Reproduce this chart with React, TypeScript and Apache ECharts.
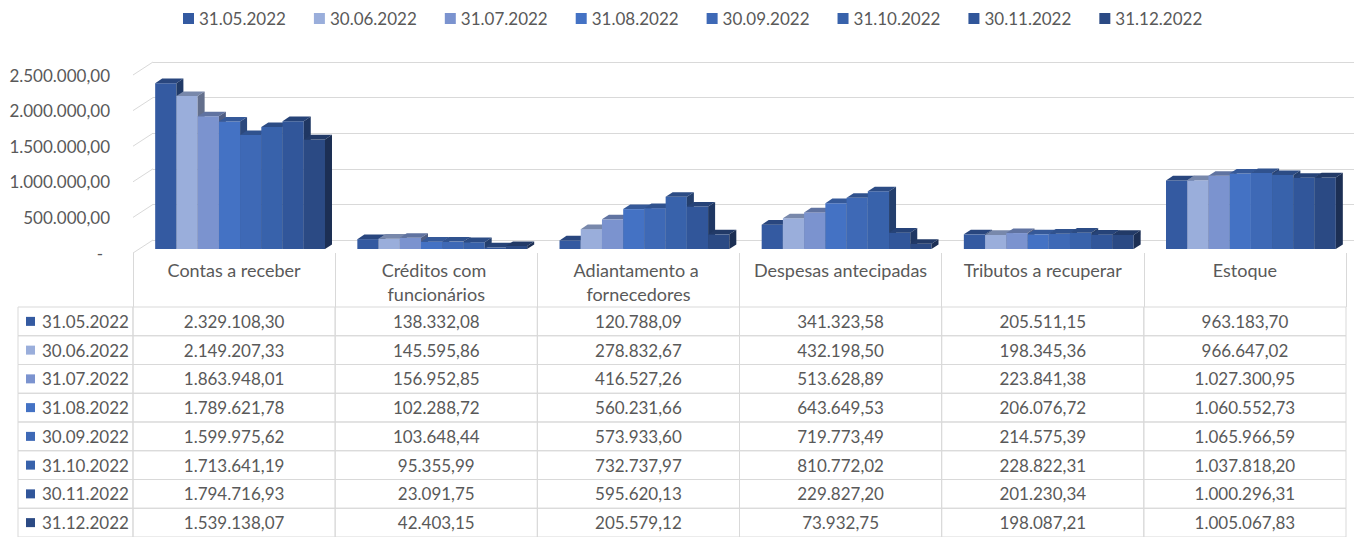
import React, { useEffect, useRef } from "react";
import * as echarts from "echarts";

const categories = [
  "Contas a receber",
  "Créditos com funcionários",
  "Adiantamento a fornecedores",
  "Despesas antecipadas",
  "Tributos a recuperar",
  "Estoque",
];
const dates = [
  "31.05.2022",
  "30.06.2022",
  "31.07.2022",
  "31.08.2022",
  "30.09.2022",
  "31.10.2022",
  "30.11.2022",
  "31.12.2022",
];
const s0505 = [2329108.3, 138332.08, 120788.09, 341323.58, 205511.15, 963183.7];
const s0606 = [2149207.33, 145595.86, 278832.67, 432198.5, 198345.36, 966647.02];
const s0707 = [1863948.01, 156952.85, 416527.26, 513628.89, 223841.38, 1027300.95];
const s0808 = [1789621.78, 102288.72, 560231.66, 643649.53, 206076.72, 1060552.73];
const s0909 = [1599975.62, 103648.44, 573933.6, 719773.49, 214575.39, 1065966.59];
const s1010 = [1713641.19, 95355.99, 732737.97, 810772.02, 228822.31, 1037818.2];
const s1111 = [1794716.93, 23091.75, 595620.13, 229827.2, 201230.34, 1000296.31];
const s1212 = [1539138.07, 42403.15, 205579.12, 73932.75, 198087.21, 1005067.83];
const seriesValues = [s0505, s0606, s0707, s0808, s0909, s1010, s1111, s1212];
const yTicks = [0, 500000, 1000000, 1500000, 2000000, 2500000];

const colors = [
  "#345aa1",
  "#9aaedb",
  "#7b93cf",
  "#4472c4",
  "#3e69b6",
  "#3862ab",
  "#31569a",
  "#2b4a84",
];

const FONT = "Lato";
const TXT = "#595959";
const LINE = "#d9d9d9";
const FS = 17;
const HFS = 18;

function shade(hex: string, f: number) {
  const n = parseInt(hex.slice(1), 16);
  const r = Math.round(((n >> 16) & 255) * f);
  const g = Math.round(((n >> 8) & 255) * f);
  const b = Math.round((n & 255) * f);
  return `rgb(${r},${g},${b})`;
}

function fmt(v: number) {
  const [i, d] = v.toFixed(2).split(".");
  return i.replace(/\B(?=(\d{3})+(?!\d))/g, ".") + "," + d;
}

// depth geometry (3D look)
const D1 = [6, -4];
const D2 = [13, -8.6];
const WALL = [20, -13];

export default function App() {
  const ref = useRef<HTMLDivElement>(null);
  useEffect(() => {
    if (!ref.current) return;
    const chart = echarts.init(ref.current, null, { renderer: "svg" });

    const barSeries = dates.map((d, s) => ({
      name: d,
      type: "custom",
      xAxisIndex: 0,
      yAxisIndex: 0,
      itemStyle: { color: colors[s] },
      data: seriesValues[s].map((v, c) => [c, v]),
      renderItem: (params: any, api: any) => {
        const c = api.value(0);
        const v = api.value(1);
        const base = api.coord([c, 0]);
        const top = api.coord([c, v])[1];
        const band = api.size([1, 0])[0];
        const inner = band * 0.84;
        const bw = inner / 8;
        const x0 = base[0] - inner / 2 + s * bw;
        const y0 = base[1];
        const fx = x0 + D1[0];
        const bx = x0 + D2[0];
        return {
          type: "group",
          children: [
            {
              type: "rect",
              shape: { x: fx, y: top + D1[1], width: bw, height: y0 - top },
              style: { fill: colors[s] },
            },
            {
              type: "polygon",
              shape: {
                points: [
                  [fx, top + D1[1]],
                  [fx + bw, top + D1[1]],
                  [bx + bw, top + D2[1]],
                  [bx, top + D2[1]],
                ],
              },
              style: { fill: shade(colors[s], 0.78) },
            },
            {
              type: "polygon",
              shape: {
                points: [
                  [fx + bw, top + D1[1]],
                  [bx + bw, top + D2[1]],
                  [bx + bw, y0 + D2[1]],
                  [fx + bw, y0 + D1[1]],
                ],
              },
              style: { fill: shade(colors[s], 0.64) },
            },
          ],
        };
      },
    }));

    const connectorSeries = {
      type: "custom",
      xAxisIndex: 0,
      yAxisIndex: 0,
      silent: true,
      z: 1,
      data: yTicks.map((v) => [0, v]),
      renderItem: (params: any, api: any) => {
        const y = api.coord([0, api.value(1)])[1];
        const x = params.coordSys.x;
        return {
          type: "line",
          shape: { x1: x, y1: y, x2: x + WALL[0], y2: y + WALL[1] },
          style: { stroke: LINE, lineWidth: 1 },
        };
      },
    };

    const cells: number[][] = [];
    for (let r = 0; r < dates.length; r++)
      for (let c = 0; c < categories.length; c++) cells.push([c, r, seriesValues[r][c]]);

    const tableSeries = {
      type: "custom",
      xAxisIndex: 1,
      yAxisIndex: 1,
      silent: true,
      data: cells,
      renderItem: (params: any, api: any) => {
        const c = api.value(0);
        const r = api.value(1);
        const v = api.value(2);
        const pt = api.coord([c, r]);
        const sz = api.size([1, 1]);
        return {
          type: "group",
          children: [
            {
              type: "rect",
              shape: { x: pt[0] - sz[0] / 2, y: pt[1] - sz[1] / 2, width: sz[0], height: sz[1] },
              style: { fill: "none", stroke: LINE, lineWidth: 1 },
            },
            {
              type: "text",
              x: pt[0],
              y: pt[1],
              style: {
                text: fmt(v),
                fill: TXT,
                fontSize: FS,
                fontFamily: FONT,
                align: "center",
                verticalAlign: "middle",
              },
            },
          ],
        };
      },
    };

    const firstColSeries = {
      type: "custom",
      xAxisIndex: 1,
      yAxisIndex: 1,
      silent: true,
      data: dates.map((d, r) => [0, r]),
      renderItem: (params: any, api: any) => {
        const r = api.value(1);
        const pt = api.coord([0, r]);
        const h = api.size([1, 1])[1];
        const x0 = params.coordSys.x - 115;
        return {
          type: "group",
          children: [
            {
              type: "rect",
              shape: { x: x0, y: pt[1] - h / 2, width: 115, height: h },
              style: { fill: "none", stroke: LINE, lineWidth: 1 },
            },
            {
              type: "rect",
              shape: { x: x0 + 8, y: pt[1] - 4.5, width: 9, height: 9 },
              style: { fill: colors[r] },
            },
            {
              type: "text",
              x: x0 + 24,
              y: pt[1],
              style: {
                text: dates[r],
                fill: TXT,
                fontSize: FS,
                fontFamily: FONT,
                align: "left",
                verticalAlign: "middle",
              },
            },
          ],
        };
      },
    };

    chart.setOption({
      animation: false,
      backgroundColor: "#ffffff",
      textStyle: { fontFamily: FONT },
      legend: {
        data: dates,
        top: 5,
        left: 178,
        icon: "rect",
        itemWidth: 11,
        itemHeight: 11,
        itemGap: 28,
        textStyle: { color: TXT, fontSize: FS, fontFamily: FONT },
      },
      grid: [
        { left: 133, right: 8, top: 75, bottom: 537 - 253 },
        { left: 133, right: 8, top: 307, bottom: -3 },
        { left: 153, right: 0, top: 62, bottom: 537 - 240 },
      ],
      xAxis: [
        {
          type: "category",
          gridIndex: 0,
          data: categories,
          axisLine: { show: false },
          axisTick: { show: true, length: 54, lineStyle: { color: LINE } },
          axisLabel: {
            color: TXT,
            fontSize: HFS,
            fontFamily: FONT,
            width: 190,
            overflow: "break",
            lineHeight: 24,
            margin: 5,
            interval: 0,
          },
          splitLine: { show: false },
        },
        {
          type: "category",
          gridIndex: 1,
          data: categories,
          show: false,
        },
        { type: "value", gridIndex: 2, min: 0, max: 1, show: false },
      ],
      yAxis: [
        {
          type: "value",
          gridIndex: 0,
          min: 0,
          max: 2500000,
          interval: 500000,
          axisLine: { show: false },
          axisTick: { show: false },
          splitLine: { show: false },
          axisLabel: {
            color: TXT,
            fontSize: FS,
            fontFamily: FONT,
            margin: 23,
            formatter: (v: number) => (v === 0 ? "{z|-}" : fmt(v)),
            rich: {
              z: { padding: [0, 7, 0, 0], color: TXT, fontSize: FS, fontFamily: FONT },
            },
          },
        },
        {
          type: "category",
          gridIndex: 1,
          data: dates,
          inverse: true,
          show: false,
        },
        {
          type: "value",
          gridIndex: 2,
          min: 0,
          max: 2500000,
          interval: 500000,
          axisLine: { show: false },
          axisTick: { show: false },
          axisLabel: { show: false },
          splitLine: { show: true, lineStyle: { color: LINE, width: 1 } },
        },
      ],
      series: [connectorSeries, ...barSeries, tableSeries, firstColSeries],
    });

    return () => chart.dispose();
  }, []);

  return (
    <div
      ref={ref}
      style={{ position: "absolute", left: 0, top: 0, width: 1354, height: 537 }}
    />
  );
}
